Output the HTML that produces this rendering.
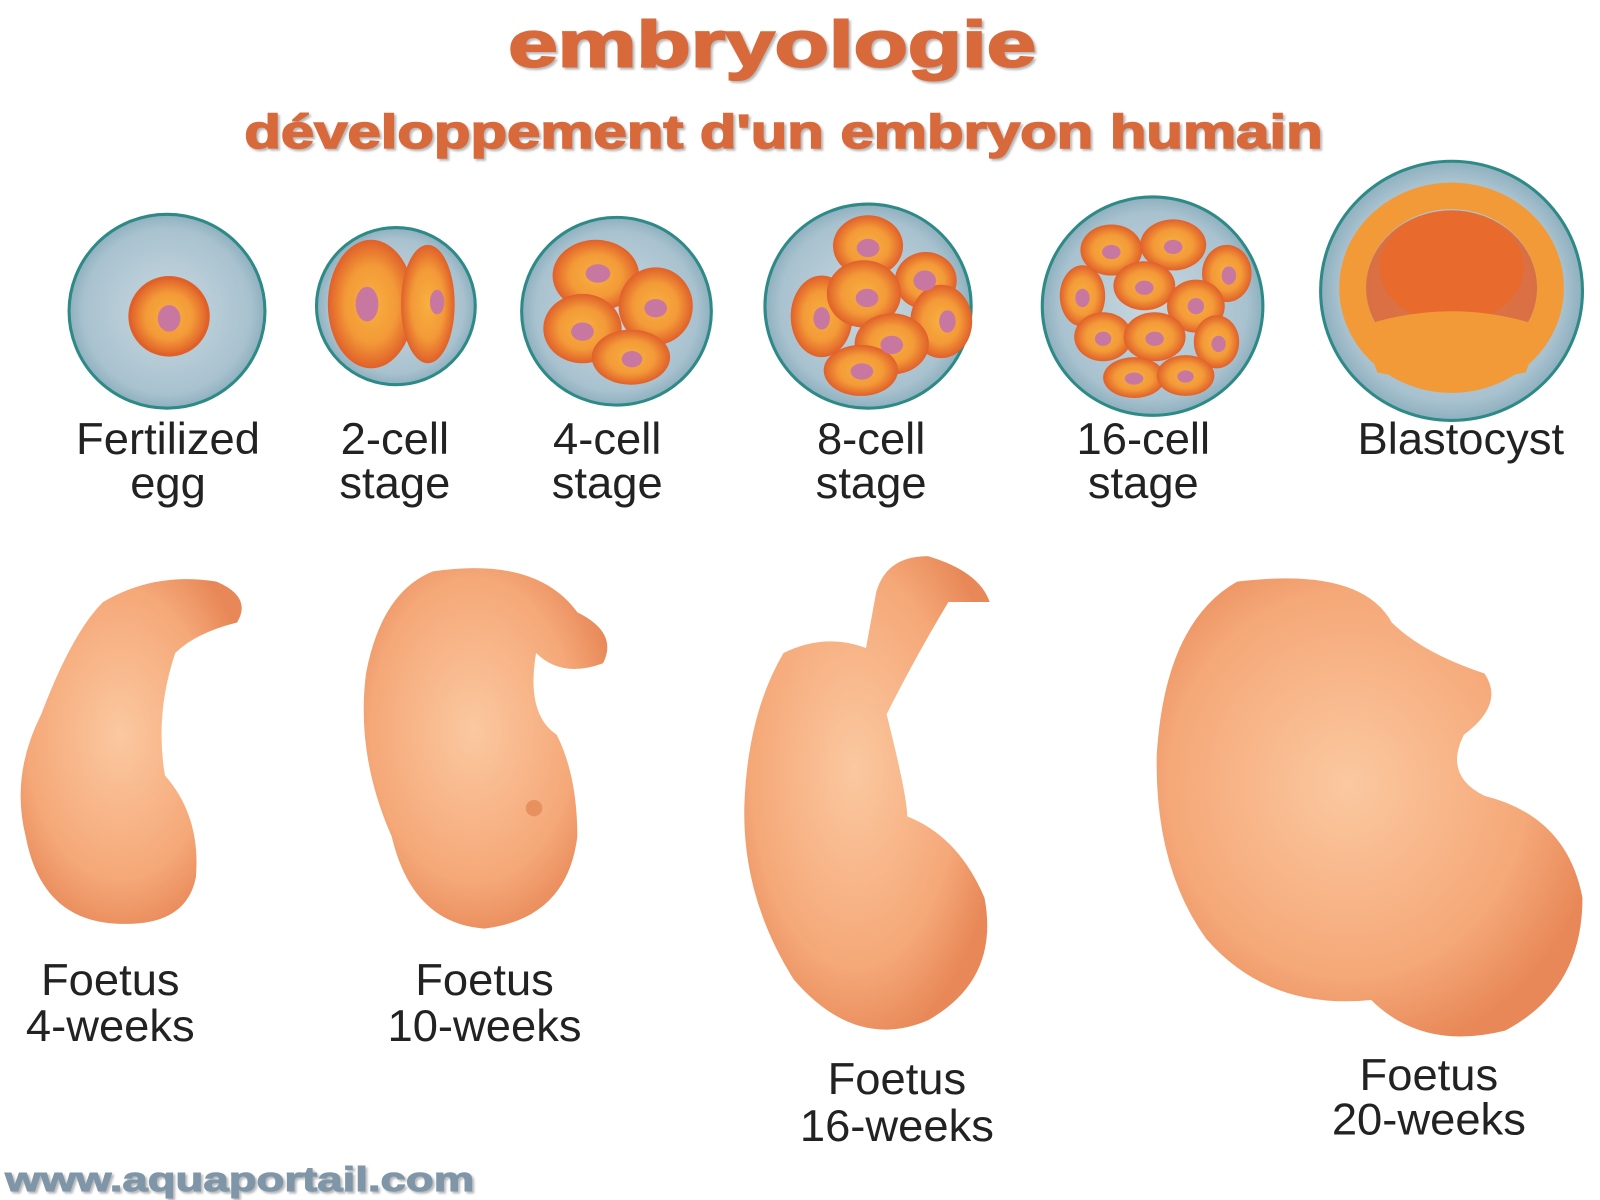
<!DOCTYPE html>
<html><head><meta charset="utf-8"><style>
html,body{margin:0;padding:0;background:#fff;width:1600px;height:1200px;overflow:hidden}
svg{display:block}
text{font-family:"Liberation Sans","DejaVu Sans",sans-serif}
</style></head><body>
<svg width="1600" height="1200" viewBox="0 0 1552 1176" preserveAspectRatio="none" xmlns="http://www.w3.org/2000/svg">
<defs>
<radialGradient id="zona" cx="50%" cy="50%" r="50%"><stop offset="0" stop-color="#c8d8e0"/><stop offset="0.85" stop-color="#a9c2cf"/><stop offset="1" stop-color="#8fb0bf"/></radialGradient>
<radialGradient id="cell" cx="50%" cy="50%" r="50%"><stop offset="0" stop-color="#f8b040"/><stop offset="0.6" stop-color="#f39a38"/><stop offset="1" stop-color="#e0602a"/></radialGradient>
<radialGradient id="skin" cx="45%" cy="45%" r="60%"><stop offset="0" stop-color="#fbc8a0"/><stop offset="0.7" stop-color="#f5a878"/><stop offset="1" stop-color="#e88858"/></radialGradient>
<filter id="sh"><feDropShadow dx="2" dy="2" stdDeviation="1" flood-color="#888" flood-opacity="0.6"/></filter>
</defs>
<text x="493" y="65" font-size="64" font-weight="bold" fill="#d8693a" filter="url(#sh)" textLength="512" lengthAdjust="spacingAndGlyphs" stroke="#d8693a" stroke-width="2">embryologie</text>
<text x="237" y="145" font-size="46" font-weight="bold" fill="#d8693a" filter="url(#sh)" textLength="1046" lengthAdjust="spacingAndGlyphs" stroke="#d8693a" stroke-width="1.5">développement d'un embryon humain</text>

<!-- egg -->
<circle cx="162" cy="305" r="95" fill="url(#zona)" stroke="#2e8a86" stroke-width="3"/>
<circle cx="164" cy="310" r="38" fill="url(#cell)" stroke="#e0602a" stroke-width="3"/>
<ellipse cx="164" cy="312" rx="11" ry="13" fill="#c878a0"/>
<!-- 2 cell -->
<circle cx="384" cy="300" r="77" fill="url(#zona)" stroke="#2e8a86" stroke-width="3"/>
<ellipse cx="360" cy="298" rx="42" ry="63" fill="url(#cell)"/>
<ellipse cx="415" cy="298" rx="26" ry="58" fill="url(#cell)"/>
<ellipse cx="356" cy="298" rx="11" ry="17" fill="#c878a0"/>
<ellipse cx="424" cy="296" rx="7" ry="12" fill="#c878a0"/>
<!-- 4 cell -->
<circle cx="598" cy="305" r="92" fill="url(#zona)" stroke="#2e8a86" stroke-width="3"/>
<ellipse cx="578" cy="270" rx="42" ry="35" fill="url(#cell)"/>
<ellipse cx="565" cy="322" rx="38" ry="34" fill="url(#cell)"/>
<ellipse cx="636" cy="300" rx="36" ry="38" fill="url(#cell)"/>
<ellipse cx="612" cy="350" rx="38" ry="27" fill="url(#cell)"/>
<ellipse cx="580" cy="268" rx="12" ry="9" fill="#c878a0"/><ellipse cx="565" cy="325" rx="11" ry="9" fill="#c878a0"/><ellipse cx="636" cy="302" rx="11" ry="9" fill="#c878a0"/><ellipse cx="613" cy="352" rx="10" ry="8" fill="#c878a0"/>
<!-- 8 cell -->
<circle cx="842" cy="300" r="100" fill="url(#zona)" stroke="#2e8a86" stroke-width="3"/>
<g fill="url(#cell)"><ellipse cx="842" cy="241" rx="34" ry="30"/><ellipse cx="898" cy="275" rx="30" ry="28"/><ellipse cx="797" cy="310" rx="30" ry="40"/><ellipse cx="913" cy="315" rx="30" ry="36"/><ellipse cx="838" cy="288" rx="36" ry="33"/><ellipse cx="865" cy="337" rx="36" ry="30"/><ellipse cx="835" cy="363" rx="36" ry="25"/></g>
<g fill="#c878a0"><ellipse cx="842" cy="243" rx="11" ry="9"/><ellipse cx="897" cy="275" rx="11" ry="10"/><ellipse cx="797" cy="312" rx="8" ry="11"/><ellipse cx="919" cy="315" rx="8" ry="11"/><ellipse cx="841" cy="292" rx="11" ry="9"/><ellipse cx="865" cy="338" rx="11" ry="9"/><ellipse cx="836" cy="364" rx="11" ry="8"/></g>
<!-- 16 cell -->
<circle cx="1118" cy="300" r="107" fill="url(#zona)" stroke="#2e8a86" stroke-width="3"/>
<g fill="url(#cell)"><ellipse cx="1078" cy="245" rx="30" ry="25"/><ellipse cx="1138" cy="240" rx="32" ry="25"/><ellipse cx="1190" cy="268" rx="24" ry="28"/><ellipse cx="1050" cy="290" rx="22" ry="30"/><ellipse cx="1110" cy="280" rx="30" ry="24"/><ellipse cx="1160" cy="300" rx="28" ry="26"/><ellipse cx="1070" cy="330" rx="28" ry="24"/><ellipse cx="1120" cy="330" rx="30" ry="24"/><ellipse cx="1180" cy="335" rx="22" ry="26"/><ellipse cx="1100" cy="370" rx="30" ry="20"/><ellipse cx="1150" cy="368" rx="28" ry="20"/></g>
<g fill="#c878a0"><ellipse cx="1078" cy="247" rx="9" ry="7"/><ellipse cx="1138" cy="242" rx="9" ry="7"/><ellipse cx="1192" cy="270" rx="7" ry="9"/><ellipse cx="1050" cy="292" rx="7" ry="9"/><ellipse cx="1110" cy="282" rx="9" ry="7"/><ellipse cx="1160" cy="300" rx="8" ry="8"/><ellipse cx="1070" cy="332" rx="8" ry="7"/><ellipse cx="1120" cy="332" rx="9" ry="7"/><ellipse cx="1182" cy="337" rx="7" ry="8"/><ellipse cx="1100" cy="371" rx="9" ry="6"/><ellipse cx="1150" cy="369" rx="8" ry="6"/></g>
<!-- blastocyst -->
<circle cx="1408" cy="285" r="127" fill="url(#zona)" stroke="#2e8a86" stroke-width="3"/>
<ellipse cx="1408" cy="282" rx="96" ry="90" fill="none" stroke="#f39a38" stroke-width="26"/>
<ellipse cx="1408" cy="282" rx="83" ry="76" fill="#e0602a" opacity="0.85"/>
<ellipse cx="1408" cy="262" rx="70" ry="55" fill="#e86a2c"/>
<path d="M1320 320 Q1408 290 1496 320 L1480 365 Q1408 380 1336 365 Z" fill="#f39a38"/>
<!-- top labels -->
<g font-size="44" fill="#222" text-anchor="middle">
<text x="163" y="445">Fertilized</text><text x="163" y="488">egg</text>
<text x="383" y="445">2-cell</text><text x="383" y="488">stage</text>
<text x="589" y="445">4-cell</text><text x="589" y="488">stage</text>
<text x="845" y="445">8-cell</text><text x="845" y="488">stage</text>
<text x="1109" y="445">16-cell</text><text x="1109" y="488">stage</text>
<text x="1417" y="445">Blastocyst</text>
</g>
<!-- fetuses -->
<path d="M100 590 Q150 560 210 570 Q245 585 230 610 Q190 620 170 640 Q150 700 160 760 Q195 800 190 860 Q180 910 110 905 Q40 900 25 820 Q10 760 40 700 Q70 620 100 590 Z" fill="url(#skin)"/>
<path d="M420 560 Q520 545 560 600 Q600 620 585 650 Q545 665 520 640 Q510 700 540 720 Q560 760 560 820 Q550 900 470 910 Q400 905 380 820 Q345 740 355 660 Q370 580 420 560 Z" fill="url(#skin)"/>
<circle cx="518" cy="792" r="8" fill="#e89060"/>
<path d="M760 640 Q800 620 840 635 L850 580 Q860 545 900 545 Q950 560 960 590 L920 590 Q890 640 860 700 Q880 780 880 800 Q930 820 955 880 Q970 960 900 1000 Q830 1030 770 960 Q720 880 722 790 Q725 700 760 640 Z" fill="url(#skin)"/>
<path d="M1200 570 Q1320 555 1350 610 Q1380 640 1440 660 Q1460 690 1420 720 Q1400 760 1440 780 Q1520 800 1535 880 Q1535 970 1460 1010 Q1380 1030 1330 980 Q1230 990 1170 920 Q1120 850 1122 740 Q1130 610 1200 570 Z" fill="url(#skin)"/>
<!-- bottom labels -->
<g font-size="44" fill="#222" text-anchor="middle">
<text x="107" y="975">Foetus</text><text x="107" y="1020">4-weeks</text>
<text x="470" y="975">Foetus</text><text x="470" y="1020">10-weeks</text>
<text x="870" y="1072">Foetus</text><text x="870" y="1118">16-weeks</text>
<text x="1386" y="1068">Foetus</text><text x="1386" y="1112">20-weeks</text>
</g>
<text x="5" y="1167" font-size="34" font-weight="bold" fill="#7f95a8" filter="url(#sh)" textLength="455" lengthAdjust="spacingAndGlyphs" stroke="#7f95a8" stroke-width="1">www.aquaportail.com</text>
</svg>
</body></html>
